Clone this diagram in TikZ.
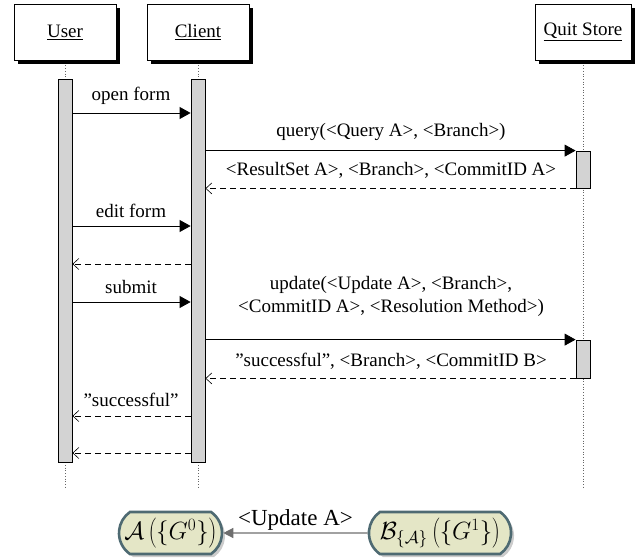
\documentclass[tikz,border=0pt]{standalone}
\usepackage{fontspec}
\setmainfont{Liberation Serif}
\usetikzlibrary{arrows.meta,shapes.misc,shadows}
\definecolor{nodefill}{HTML}{E4E6C6}
\definecolor{nodeborder}{HTML}{4E6A72}
\definecolor{bargray}{HTML}{D3D3D3}
\definecolor{arrowgray}{HTML}{6E6E6E}
\begin{document}
\begin{tikzpicture}[x=1pt,y=-1pt,
  objbox/.style={draw=black, fill=white, line width=0.8pt, minimum height=56pt, inner sep=0pt,
    font=\fontsize{19}{23}\selectfont,
    drop shadow={shadow xshift=4pt, shadow yshift=-4pt, fill=black, opacity=1}},
  lifeline/.style={dotted, draw=black!60, line width=0.7pt},
  actbar/.style={draw=black, fill=bargray, line width=0.8pt, minimum width=14pt, inner sep=0pt},
  msg/.style={draw=black, line width=0.8pt, -{Triangle[length=11pt,width=12pt]}},
  ret/.style={draw=black, line width=0.7pt, dash pattern=on 6pt off 4pt, -{Straight Barb[length=6pt,width=11pt,line width=0.6pt]}},
  msglabel/.style={font=\fontsize{19}{23}\selectfont, inner sep=0pt, text height=13pt, text depth=4pt},
  stagenode/.style={rounded rectangle, rounded rectangle arc length=110, draw=nodeborder, line width=2.6pt,
    fill=nodefill, minimum height=42pt, inner xsep=6pt, font=\fontsize{23}{27}\selectfont,
    drop shadow={shadow xshift=3pt, shadow yshift=-3pt, fill=black!20, opacity=1}},
  trans/.style={draw=arrowgray, line width=1.3pt, -{Triangle[length=10pt,width=10pt]}}
]
\useasboundingbox (0,0) rectangle (641,558);

% lifeline end points
\coordinate (uend) at (65,488);
\coordinate (cend) at (198,488);
\coordinate (qend) at (583,488);

% object boxes
\node[objbox, minimum width=102pt] (user) at (65,32) {\underline{User}};
\node[objbox, minimum width=102pt] (client) at (198,32) {\underline{Client}};
\node[objbox, minimum width=96pt] (quit) at (583,32) {\underline{Quit Store}};

% lifelines
\draw[lifeline] ([yshift=-5pt]user.south) -- (uend);
\draw[lifeline] ([yshift=-5pt]client.south) -- (cend);
\draw[lifeline] ([yshift=-5pt]quit.south) -- (qend);

% activation bars
\node[actbar, minimum height=383pt] (ubar) at (65,270.5) {};
\node[actbar, minimum height=383pt] (cbar) at (198,270.5) {};
\node[actbar, minimum height=37pt] (qbar1) at (583,169.5) {};
\node[actbar, minimum height=38pt] (qbar2) at (583,359) {};

% messages
\draw[msg] (ubar.east |- 0,113) -- (cbar.west |- 0,113);
\node[msglabel] (l1) at (131,96) {open form};

\draw[msg] (cbar.east |- qbar1.north) -- (qbar1.north west);
\node[msglabel] (l2) at (391,132) {query(<Query A>, <Branch>)};

\draw[ret] (qbar1.south west) -- (cbar.east |- qbar1.south);
\node[msglabel] (l3) at (391,171) {<ResultSet A>, <Branch>, <CommitID A>};

\draw[msg] (ubar.east |- 0,226) -- (cbar.west |- 0,226);
\node[msglabel] (l4) at (131,213) {edit form};

\draw[ret] (cbar.west |- 0,264) -- (ubar.east |- 0,264);

\draw[msg] (ubar.east |- 0,302) -- (cbar.west |- 0,302);
\node[msglabel] (l5) at (131,289) {submit};

\draw[msg] (cbar.east |- qbar2.north) -- (qbar2.north west);
\node[msglabel, align=center] (l6) at (391,308) {update(<Update A>, <Branch>,\\<CommitID A>, <Resolution Method>)};

\draw[ret] (qbar2.south west) -- (cbar.east |- qbar2.south);
\node[msglabel] (l7) at (391,362) {"successful", <Branch>, <CommitID B>};

\draw[ret] (cbar.west |- 0,416) -- (ubar.east |- 0,416);
\node[msglabel] (l8) at (131,402) {"successful"};

\draw[ret] (cbar.west |- 0,453) -- (ubar.east |- 0,453);

% bottom
\node[stagenode, minimum width=115pt] (A) at (170.5,533) {$\mathcal{A}\left(\{G^0\}\right)$};
\node[stagenode, minimum width=136pt] (B) at (440,533) {$\mathcal{B}_{\{\mathcal{A}\}}\left(\{G^1\}\right)$};
\draw[trans] (B) -- node[above=2pt, font=\fontsize{23}{27}\selectfont, inner sep=0pt] {<Update A>} (A);
\end{tikzpicture}
\end{document}
